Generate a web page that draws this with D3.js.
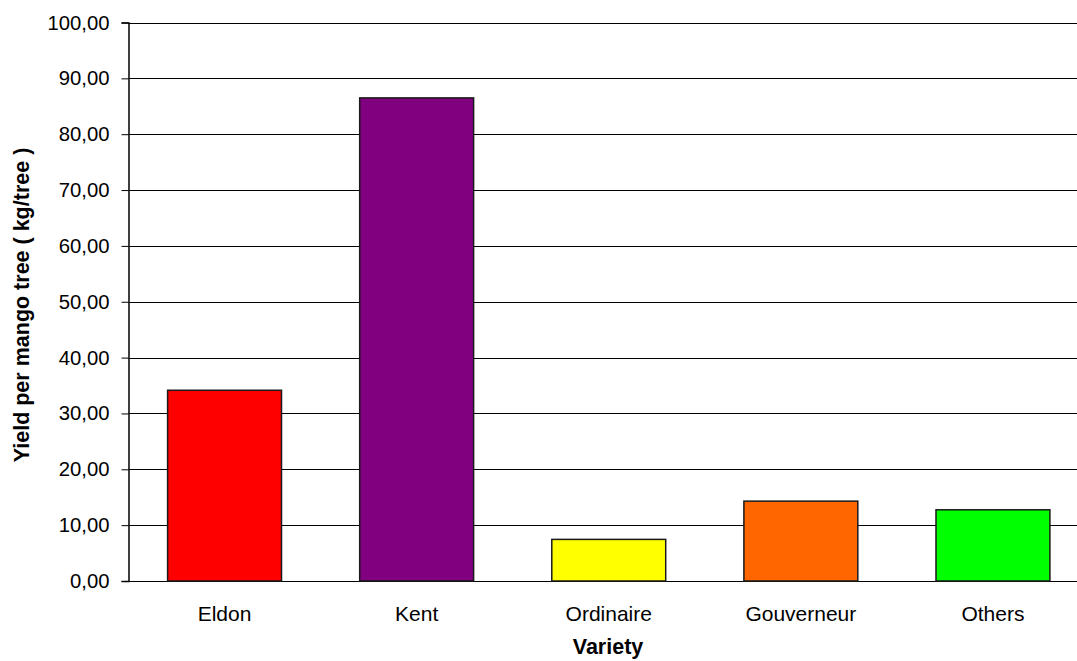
<!DOCTYPE html>
<html>
<head>
<meta charset="utf-8">
<script src="https://cdn.jsdelivr.net/npm/d3@7"></script>
<style>
  html, body { margin: 0; padding: 0; background: #fff; }
  svg { display: block; font-family: "Liberation Sans", Arial, sans-serif; }
</style>
</head>
<body>
<svg id="chart" width="1077" height="661"></svg>
<script>
const categories = ["Eldon", "Kent", "Ordinaire", "Gouverneur", "Others"];
const yields = [34.15, 86.5, 7.45, 14.3, 12.75];
const barColors = ["#FF0000", "#800080", "#FFFF00", "#FF6600", "#00FF00"];
const yTicks = [0, 10, 20, 30, 40, 50, 60, 70, 80, 90, 100];
const xTitle = "Variety";
const yTitle = "Yield per mango tree ( kg/tree )";

(function () {
const svg = d3.select("#chart");
const pLeft = 128.5, pRight = 1089, pTop = 22.5, pBottom = 581;

const x = d3.scaleBand().domain(categories).range([pLeft, pRight]).paddingInner(0.407).paddingOuter(0.2035);
const y = d3.scaleLinear().domain([0, 100]).range([pBottom, pTop]);

const fmt = d => d3.format(".2f")(d).replace(".", ",");

// gridlines
svg.append("g").selectAll("line").data(yTicks).join("line")
  .attr("x1", pLeft).attr("x2", 1077)
  .attr("y1", d => Math.round(y(d)) + 0.5).attr("y2", d => Math.round(y(d)) + 0.5)
  .attr("stroke", "#000").attr("stroke-width", 1);

// bars
svg.append("g").selectAll("rect").data(categories).join("rect")
  .attr("x", d => x(d))
  .attr("y", (d, i) => y(yields[i]))
  .attr("width", x.bandwidth())
  .attr("height", (d, i) => y(0) - y(yields[i]))
  .attr("fill", (d, i) => barColors[i])
  .attr("stroke", "#1a1a1a").attr("stroke-width", 1.5);

// y axis
const yAxis = d3.axisLeft(y).tickValues(yTicks).tickFormat(fmt).tickSize(7).tickPadding(12);
const ga = svg.append("g").attr("transform", `translate(${pLeft},0)`).call(yAxis);
ga.select(".domain").attr("stroke", "#000").attr("stroke-width", 1.5);
ga.selectAll(".tick line").attr("stroke", "#000");
ga.selectAll(".tick text").attr("font-size", 20.3).attr("fill", "#000")
  .attr("font-family", "Liberation Sans, Arial, sans-serif");

// x axis labels
const xAxis = d3.axisBottom(x).tickSize(0).tickPadding(25);
const gx = svg.append("g").attr("transform", `translate(0,${pBottom})`).call(xAxis);
gx.select(".domain").remove();
gx.selectAll(".tick text").attr("font-size", 21).attr("fill", "#000")
  .attr("font-family", "Liberation Sans, Arial, sans-serif");

// titles
svg.append("text").attr("x", 608).attr("y", 654).attr("text-anchor", "middle")
  .attr("font-size", 21.5).attr("font-weight", "bold").text(xTitle);
svg.append("text").attr("transform", "translate(28.5,305) rotate(-90)").attr("text-anchor", "middle")
  .attr("font-size", 21.5).attr("font-weight", "bold").text(yTitle);
})();
</script>
</body>
</html>
